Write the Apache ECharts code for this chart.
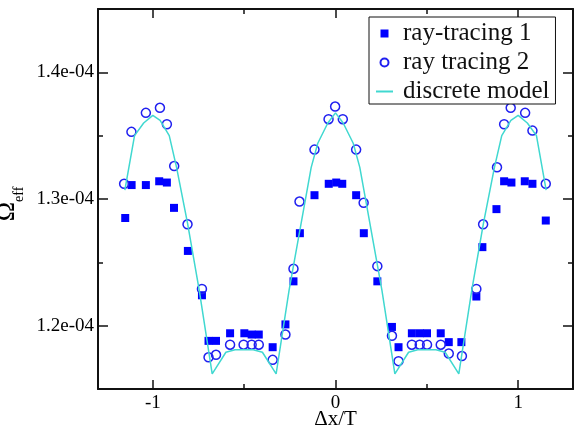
<!DOCTYPE html>
<html><head><meta charset="utf-8">
<script src="https://cdn.jsdelivr.net/npm/echarts@6/dist/echarts.min.js"></script>
<style>html,body{margin:0;padding:0;background:#fff}#c{width:582px;height:428px}</style>
</head><body><div id="c"></div>
<script>
// ray-tracing 1 (filled squares)
const rt1X = [-1.151,-1.116,-1.038,-0.965,-0.923,-0.884,-0.808,-0.731,-0.695,-0.654,-0.577,-0.499,-0.459,-0.420,-0.344,-0.274,-0.230,-0.195,-0.115,-0.037,0.004,0.037,0.113,0.155,0.229,0.309,0.345,0.418,0.461,0.501,0.576,0.620,0.689,0.771,0.804,0.881,0.923,0.963,1.036,1.078,1.151];
const rt1Y = [1.285e-4,1.311e-4,1.311e-4,1.314e-4,1.313e-4,1.293e-4,1.259e-4,1.224e-4,1.188e-4,1.188e-4,1.194e-4,1.194e-4,1.193e-4,1.193e-4,1.183e-4,1.201e-4,1.235e-4,1.273e-4,1.303e-4,1.312e-4,1.313e-4,1.312e-4,1.303e-4,1.273e-4,1.235e-4,1.199e-4,1.183e-4,1.194e-4,1.194e-4,1.194e-4,1.194e-4,1.187e-4,1.187e-4,1.223e-4,1.262e-4,1.292e-4,1.314e-4,1.313e-4,1.314e-4,1.312e-4,1.283e-4];
// ray tracing 2 (open circles)
const rt2X = [-1.157,-1.117,-1.038,-0.961,-0.923,-0.883,-0.810,-0.731,-0.695,-0.654,-0.577,-0.503,-0.459,-0.420,-0.344,-0.274,-0.230,-0.197,-0.115,-0.038,-0.002,0.040,0.113,0.154,0.229,0.309,0.345,0.418,0.461,0.501,0.576,0.620,0.692,0.771,0.808,0.884,0.923,0.959,1.038,1.078,1.151];
const rt2Y = [1.312e-4,1.353e-4,1.368e-4,1.372e-4,1.359e-4,1.326e-4,1.280e-4,1.229e-4,1.175e-4,1.177e-4,1.185e-4,1.185e-4,1.185e-4,1.185e-4,1.173e-4,1.193e-4,1.245e-4,1.298e-4,1.339e-4,1.363e-4,1.373e-4,1.363e-4,1.339e-4,1.297e-4,1.247e-4,1.192e-4,1.172e-4,1.185e-4,1.185e-4,1.185e-4,1.185e-4,1.178e-4,1.176e-4,1.229e-4,1.280e-4,1.325e-4,1.359e-4,1.372e-4,1.368e-4,1.354e-4,1.312e-4];
// discrete model (line)
const modelX = [-1.153,-1.10,-1.05,-1.00,-0.96,-0.91,-0.87,-0.81,-0.746,-0.675,-0.60,-0.55,-0.50,-0.45,-0.40,-0.325,-0.254,-0.188,-0.133,-0.097,-0.042,0,0.042,0.097,0.133,0.188,0.254,0.325,0.40,0.45,0.50,0.55,0.60,0.675,0.746,0.81,0.87,0.91,0.96,1.00,1.05,1.10,1.153];
const modelY = [1.307e-4,1.350e-4,1.360e-4,1.366e-4,1.362e-4,1.350e-4,1.325e-4,1.281e-4,1.228e-4,1.162e-4,1.179e-4,1.181e-4,1.181e-4,1.181e-4,1.179e-4,1.162e-4,1.228e-4,1.281e-4,1.325e-4,1.344e-4,1.360e-4,1.368e-4,1.360e-4,1.344e-4,1.325e-4,1.281e-4,1.228e-4,1.162e-4,1.179e-4,1.181e-4,1.181e-4,1.181e-4,1.179e-4,1.162e-4,1.228e-4,1.281e-4,1.325e-4,1.350e-4,1.362e-4,1.366e-4,1.360e-4,1.350e-4,1.307e-4];
// axes
const xMin = -1.3, xMax = 1.3;
const xMajor = [-1, 0, 1];
const xMinor = [-0.5, 0.5];
const yMin = 1.15e-4, yMax = 1.45e-4;
const yMajor = [1.2e-4, 1.3e-4, 1.4e-4];
const yMinor = [1.25e-4, 1.35e-4];

const zip = (a, b) => a.map((v, i) => [v, b[i]]);
const FONT = '"Liberation Serif","Times New Roman",serif';
const AX = '#111';

function xAx(pos, vals, len, showLine, showLabel, extra) {
  return Object.assign({
    type: 'value', position: pos, min: xMin, max: xMax,
    axisLine: { show: showLine, onZero: false, lineStyle: { color: AX, width: 2 } },
    axisTick: { show: true, inside: true, length: len, customValues: vals, lineStyle: { color: AX, width: 1.5 } },
    axisLabel: { show: showLabel, customValues: vals, margin: 5, color: '#000', fontFamily: FONT, fontSize: 19 },
    splitLine: { show: false }
  }, extra || {});
}
function yAx(pos, vals, len, showLine, showLabel, extra) {
  return Object.assign({
    type: 'value', position: pos, min: yMin, max: yMax,
    axisLine: { show: showLine, onZero: false, lineStyle: { color: AX, width: 2 } },
    axisTick: { show: true, inside: true, length: len, customValues: vals, lineStyle: { color: AX, width: 1.5 } },
    axisLabel: { show: showLabel, customValues: vals, margin: 4, color: '#000', fontFamily: FONT, fontSize: 19,
      formatter: v => (v * 1e4).toFixed(1) + 'e-04' },
    splitLine: { show: false }
  }, extra || {});
}

const chart = echarts.init(document.getElementById('c'), null, { renderer: 'canvas' });
chart.setOption({
  animation: false,
  backgroundColor: '#fff',
  grid: { left: 98, right: 9, top: 9, bottom: 39, containLabel: false, outerBoundsMode: 'none' },
  xAxis: [
    xAx('bottom', xMajor, 9, true, true, {
      name: 'Δx/T', nameLocation: 'middle', nameGap: 20, nameMoveOverlap: false,
      nameTextStyle: { fontFamily: FONT, fontSize: 21, color: '#000', verticalAlign: 'top' }
    }),
    xAx('top', xMajor, 9, true, false),
    xAx('bottom', xMinor, 5, false, false),
    xAx('top', xMinor, 5, false, false)
  ],
  yAxis: [
    yAx('left', yMajor, 10, true, true, {
      name: '{o|Ω}{s|eff}', nameLocation: 'middle', nameGap: 72, nameRotate: 90, nameMoveOverlap: false,
      nameTextStyle: {
        fontFamily: FONT, color: '#000',
        rich: {
          o: { fontFamily: FONT, fontSize: 26, color: '#000', verticalAlign: 'top', lineHeight: 32 },
          s: { fontFamily: FONT, fontSize: 14, color: '#000', verticalAlign: 'bottom', lineHeight: 14, padding: [0, 10, 0, 0] }
        }
      }
    }),
    yAx('right', yMajor, 10, true, false),
    yAx('left', yMinor, 5, false, false),
    yAx('right', yMinor, 5, false, false)
  ],
  legend: {
    left: 369, top: 17, orient: 'vertical',
    borderColor: '#111', borderWidth: 1, borderRadius: 0, padding: [4, 6, 0, 6],
    backgroundColor: '#fff',
    itemWidth: 17, itemHeight: 8, itemGap: 4,
    textStyle: { fontFamily: FONT, fontSize: 25, color: '#111', lineHeight: 24, padding: [0, 0, 0, 5] },
    data: [
      { name: 'ray-tracing 1', icon: 'path://M0,0h1v1h-1z' },
      { name: 'ray tracing 2', icon: 'circle' },
      { name: 'discrete model', itemStyle: { color: 'rgba(0,0,0,0)', borderWidth: 0, opacity: 0 } }
    ]
  },
  series: [
    { name: 'ray-tracing 1', type: 'scatter', xAxisIndex: 0, yAxisIndex: 0, symbol: 'rect', symbolSize: 8,
      itemStyle: { color: '#0000ff', opacity: 1 }, data: zip(rt1X, rt1Y), z: 2 },
    { name: 'ray tracing 2', type: 'scatter', xAxisIndex: 0, yAxisIndex: 0, symbol: 'circle', symbolSize: 9,
      itemStyle: { color: 'rgba(255,255,255,0)', borderColor: '#2020f0', borderWidth: 1.5, opacity: 1 }, data: zip(rt2X, rt2Y), z: 3 },
    { name: 'discrete model', type: 'line', xAxisIndex: 0, yAxisIndex: 0, symbol: 'none', showSymbol: false,
      lineStyle: { color: '#40d8d0', width: 1.5 }, itemStyle: { color: 'rgba(0,0,0,0)' }, data: zip(modelX, modelY), z: 4 }
  ]
});
</script></body></html>
